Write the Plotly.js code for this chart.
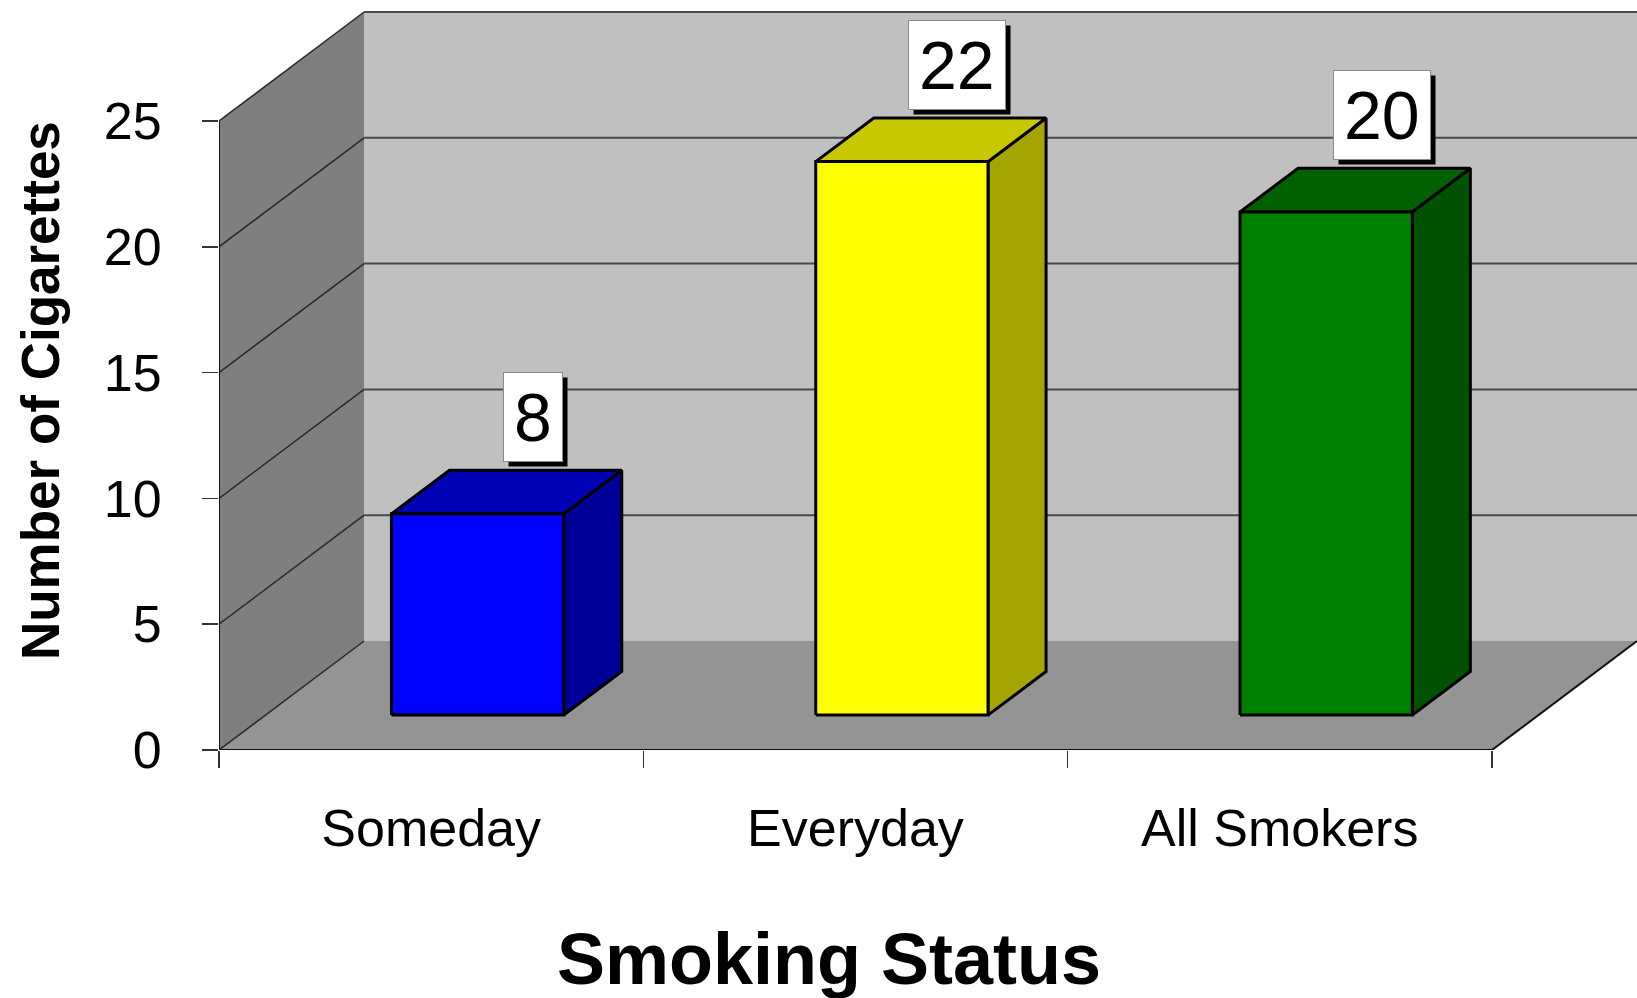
<!DOCTYPE html>
<html>
<head>
<meta charset="utf-8">
<script src="https://cdn.plot.ly/plotly-3.0.1.min.js"></script>
<style>html,body{margin:0;padding:0;background:#fff;}#chart{width:1637px;height:998px;}</style>
</head>
<body>
<div id="chart"></div>
<script>
// ---- data ----
const categories = ['Someday', 'Everyday', 'All Smokers'];
const values = [8, 22, 20];
const frontColors = ['#0000ff', '#ffff00', '#008000'];
const topColors = ['#0000b4', '#c8c800', '#006000'];
const sideColors = ['#000099', '#a5a500', '#005200'];
const yTicks = [0, 5, 10, 15, 20, 25];
const xAxisTitle = 'Smoking Status';
const yAxisTitle = 'Number of Cigarettes';

// ---- 3D projection settings (depth offsets in axis units) ----
const DX = 0.342;   // category units per unit depth
const DY = 4.332;   // value units per unit depth
const yMax = yTicks[yTicks.length - 1];
const xLo = -0.5, xHi = categories.length - 0.5;
const barHalf = 0.203, d1 = 0.32, d2 = 0.72;
const FONT = 'Liberation Sans, Arial, Helvetica, sans-serif';

function proj(pts) { // pts: [x, y, depth]
  return { x: pts.map(p => p[0] + p[2] * DX), y: pts.map(p => p[1] + p[2] * DY) };
}
function poly(pts, fill, lineColor, lineWidth) {
  const c = proj(pts.concat([pts[0]]));
  return { type: 'scatter', mode: 'lines', x: c.x, y: c.y, fill: 'toself', fillcolor: fill,
    line: { color: lineColor || fill, width: lineWidth === undefined ? 0 : lineWidth },
    hoverinfo: 'skip', showlegend: false };
}
function lines(segs, color, width) {
  const x = [], y = [];
  segs.forEach(s => { const c = proj(s); x.push(...c.x, null); y.push(...c.y, null); });
  return { type: 'scatter', mode: 'lines', x, y, line: { color, width }, hoverinfo: 'skip', showlegend: false };
}

const traces = [];
// walls and floor
traces.push(poly([[xLo, 0, 1], [xHi, 0, 1], [xHi, yMax, 1], [xLo, yMax, 1]], '#c0c0c0'));
traces.push(poly([[xLo, 0, 0], [xLo, 0, 1], [xLo, yMax, 1], [xLo, yMax, 0]], '#7f7f7f'));
traces.push(poly([[xLo, 0, 0], [xHi, 0, 0], [xHi, 0, 1], [xLo, 0, 1]], '#949494'));
// gridlines
traces.push(lines(yTicks.filter(v => v > 0).map(v => [[xLo, v, 1], [xHi, v, 1]]), '#4a4a4a', 2));
traces.push(lines(yTicks.map(v => [[xLo, v, 0], [xLo, v, 1]]), '#2a2a2a', 1.5));
// axis edges
traces.push(lines([[[xLo, yMax, 0], [xLo, 0, 0], [xHi, 0, 0], [xHi, 0, 1]]], '#111', 2));

// bars
values.forEach((v, i) => {
  const L = i - barHalf, R = i + barHalf;
  traces.push(poly([[R, 0, d1], [R, 0, d2], [R, v, d2], [R, v, d1]], sideColors[i], '#000', 3));
  traces.push(poly([[L, v, d1], [R, v, d1], [R, v, d2], [L, v, d2]], topColors[i], '#000', 3));
  traces.push(poly([[L, 0, d1], [R, 0, d1], [R, v, d1], [L, v, d1]], frontColors[i], '#000', 3));
});

// value labels (drop shadow box + white box)
const annotations = [];
values.forEach((v, i) => {
  const label = String(v);
  const base = { x: i + 0.24, y: v + d2 * DY, xref: 'x', yref: 'y', showarrow: false,
    xanchor: 'center', yanchor: 'bottom', height: 68, valign: 'middle', borderpad: 10,
    font: { family: FONT, size: 68, color: '#000' } };
  // shadow: blank figure spaces of the same width as the digits
  annotations.push(Object.assign({}, base, { text: '\u2007'.repeat(label.length), bgcolor: '#000', xshift: 5, yshift: 3 }));
  annotations.push(Object.assign({}, base, { text: label, bgcolor: '#fff', bordercolor: '#8a8a8a', borderwidth: 1, yshift: 8 }));
});
// axis titles
annotations.push({ text: xAxisTitle, xref: 'paper', yref: 'paper', x: 0.430, y: -0.279,
  xanchor: 'center', yanchor: 'middle', showarrow: false,
  font: { family: FONT, size: 72, weight: 'bold', color: '#000' } });
annotations.push({ text: yAxisTitle, xref: 'paper', yref: 'paper', x: -0.126, y: 0.479, textangle: -90,
  xanchor: 'center', yanchor: 'middle', showarrow: false,
  font: { family: FONT, size: 53, weight: 'bold', color: '#000' } });

const layout = {
  width: 1637, height: 998, autosize: false,
  margin: { l: 219, r: 0, t: 0, b: 248 },
  paper_bgcolor: '#fff', plot_bgcolor: '#fff',
  showlegend: false,
  font: { family: FONT, color: '#000' },
  xaxis: {
    range: [xLo, xHi + DX], fixedrange: true, automargin: false,
    tickmode: 'array', tickvals: categories.map((c, i) => i), ticktext: categories,
    ticks: '', showgrid: false, zeroline: false, showline: false,
    tickfont: { family: FONT, size: 52, color: '#000' }, ticklabelstandoff: 43,
    minor: { tickmode: 'array', tickvals: categories.map((c, i) => i - 0.5).concat([xHi]),
      ticks: 'outside', ticklen: 17, tickcolor: '#333', tickwidth: 1.5, showgrid: false }
  },
  yaxis: {
    range: [0, 750 / 25.16], fixedrange: true, automargin: false,
    tickmode: 'array', tickvals: yTicks, ticks: 'outside', ticklen: 16, tickcolor: '#333', tickwidth: 1.5,
    showgrid: false, zeroline: false, showline: false,
    tickfont: { family: FONT, size: 52, color: '#000' }, ticklabelstandoff: 30
  },
  annotations
};

Plotly.newPlot('chart', traces, layout, { displayModeBar: false, staticPlot: true });
</script>
</body>
</html>
